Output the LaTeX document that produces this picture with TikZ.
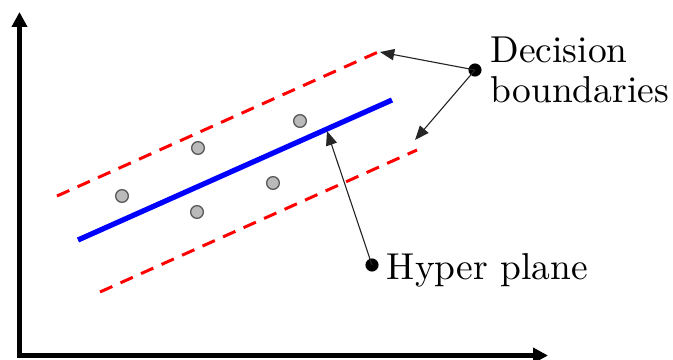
\documentclass[tikz,border=0pt]{standalone}
\usetikzlibrary{positioning,arrows.meta}
\tikzset{
  sample/.style={circle,draw=black!65,fill=black!27,line width=0.35pt,inner sep=0pt,minimum size=3.4pt},
  marker/.style={circle,fill=black,inner sep=0pt,minimum size=3.5pt},
  margin/.style={red,line width=0.8pt,dash pattern=on 3.6pt off 2.4pt},
  pointer/.style={-{Triangle[length=3.8pt,width=3pt]},line width=0.3pt,black!85},
  axis/.style={line width=1.35pt,-{Triangle[length=4pt,width=4pt]}},
}
\begin{document}
\begin{tikzpicture}[x=0.267pt,y=-0.267pt]
\useasboundingbox (0,0) rectangle (673,360);
% axes
\draw[axis] (19.5,357.5) -- (19.5,12);
\draw[axis] (17,355.5) -- (548,355.5);
% margins and separating line
\draw[margin] (57,196) -- (377,52.5);
\draw[margin] (100,292) -- (417,150);
\draw[blue,line width=1.4pt] (78,240) -- (392,100);
\foreach \x/\y in {122/196,198/148,197/212,273/183,300/121}{
  \node[sample] at (\x,\y) {};
}
% labels
\node[marker] (db) at (475,70) {};
\node[align=left,right=-1.3pt of db] (dbtext) {Decision\\[-1.3pt]boundaries};
\node[marker] (hp) at (372,265) {};
\node[right=-1.5pt of hp,yshift=-1.5pt] (hptext) {Hyper plane};
\coordinate (upper) at (380,52);
\coordinate (lower) at (415,140);
\coordinate (plane) at (327,131);
\draw[pointer] (db.center) -- (upper);
\draw[pointer] (db.center) -- (lower);
\draw[pointer] (hp.center) -- (plane);
\end{tikzpicture}
\end{document}
